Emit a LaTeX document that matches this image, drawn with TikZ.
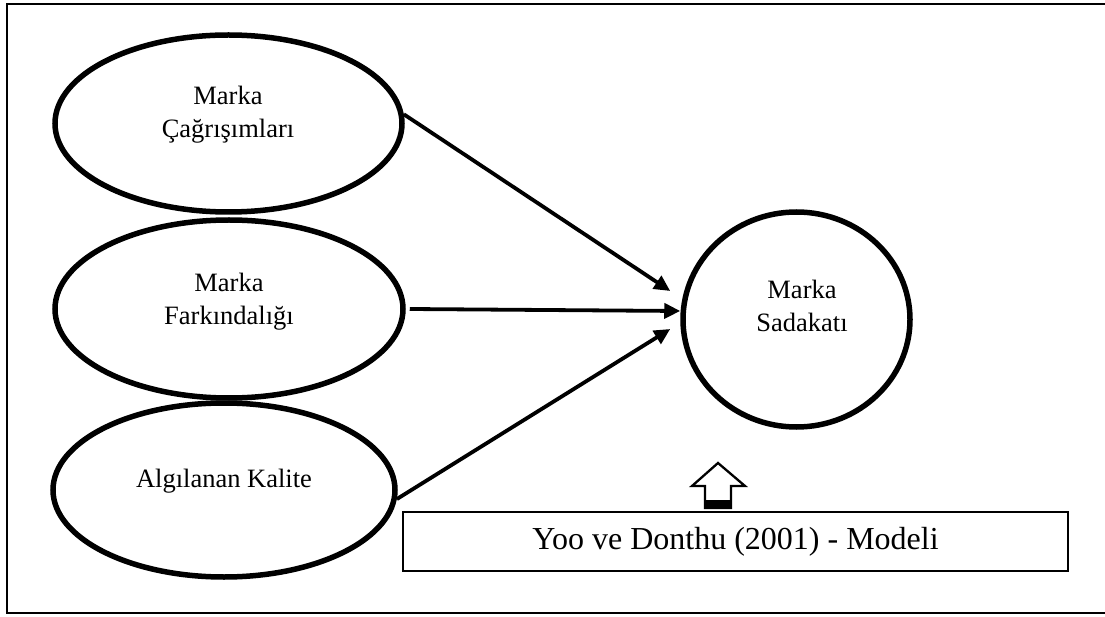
\documentclass[tikz,border=0pt]{standalone}
\usepackage{fontspec}
\setmainfont{Liberation Serif}
\usetikzlibrary{shapes.geometric,arrows.meta}
\tikzset{
  construct/.style={draw, ellipse, line width=5.5pt, inner sep=0pt},
  lbl/.style={font=\fontsize{26.5}{33}\selectfont, align=center, inner sep=0pt, anchor=base},
  path/.style={line width=3.8pt, -{Triangle[length=16pt,width=15pt]}},
  caption/.style={draw, line width=2.8pt, inner sep=0pt,
    font=\fontsize{32}{36}\selectfont},
}
\begin{document}
\begin{tikzpicture}[x=1pt, y=-1pt]
\useasboundingbox (0,0) rectangle (1105,617);
% outer frame
\draw[line width=2.3pt] (7,4) rectangle (1112,613);

% constructs
\node[construct, minimum width=347pt, minimum height=177pt] (e1) at (228.5,123.5) {};
\node[construct, minimum width=348pt, minimum height=178pt] (e2) at (229,309) {};
\node[construct, minimum width=342pt, minimum height=174pt] (e3) at (224,490) {};
\node[construct, minimum width=227pt, minimum height=215pt] (sad) at (796.5,319.5) {};

% labels (base anchor sits on the last line)
\node[lbl] (t1) at (228,138) {Marka\\Çağrışımları};
\node[lbl] (t2) at (229,325) {Marka\\Farkındalığı};
\node[lbl] (t3) at (224,487) {Algılanan Kalite};
\node[lbl] (t4) at (802,332) {Marka\\Sadakatı};

% paths to loyalty
\draw[path] (e1.3) -- ([xshift=-10pt,yshift=28.5pt]sad.west);
\draw[path] ([xshift=4pt]e2.east) -- ([yshift=8.5pt]sad.west);
\draw[path] (e3.-3) -- ([xshift=-10pt,yshift=-9.5pt]sad.west);

% model caption
\node[caption, minimum width=665pt, minimum height=59pt] (cap) at (735.5,541.5)
  {Yoo ve Donthu (2001) - Modeli};

% hollow pointer above the caption
\draw[line width=2.3pt, fill=white, line join=miter]
  (718,463) -- (745,486) -- (731,486) -- (731,508) -- (705,508) -- (705,486) -- (692,486) -- cycle;
\fill[black] (705,500) rectangle (731,509);
\end{tikzpicture}
\end{document}
